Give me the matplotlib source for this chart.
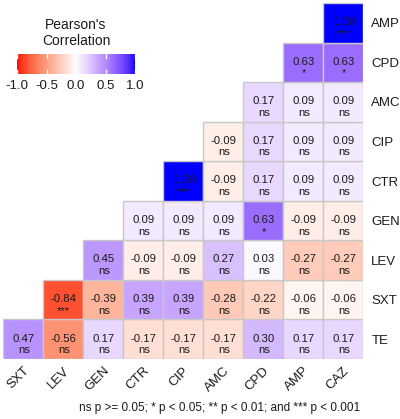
import numpy as np
import matplotlib
matplotlib.use("Agg")
import matplotlib.pyplot as plt
from matplotlib.patches import Rectangle

plt.rcParams['font.family'] = ['Liberation Sans', 'DejaVu Sans']

x_labels = ["SXT", "LEV", "GEN", "CTR", "CIP", "AMC", "CPD", "AMP", "CAZ"]
y_labels = ["TE", "SXT", "LEV", "GEN", "CTR", "CIP", "AMC", "CPD", "AMP"]  # bottom to top

vals_TE = [0.47, -0.56, 0.17, -0.17, -0.17, -0.17, 0.30, 0.17, 0.17]
vals_SXT = [-0.84, -0.39, 0.39, 0.39, -0.28, -0.22, -0.06, -0.06]
vals_LEV = [0.45, -0.09, -0.09, 0.27, 0.03, -0.27, -0.27]
vals_GEN = [0.09, 0.09, 0.09, 0.63, -0.09, -0.09]
vals_CTR = [1.00, -0.09, 0.17, 0.09, 0.09]
vals_CIP = [-0.09, 0.17, 0.09, 0.09]
vals_AMC = [0.17, 0.09, 0.09]
vals_CPD = [0.63, 0.63]
vals_AMP = [1.00]

sig_TE = ["ns"] * 9
sig_SXT = ["***", "ns", "ns", "ns", "ns", "ns", "ns", "ns"]
sig_LEV = ["ns"] * 7
sig_GEN = ["ns", "ns", "ns", "*", "ns", "ns"]
sig_CTR = ["***", "ns", "ns", "ns", "ns"]
sig_CIP = ["ns"] * 4
sig_AMC = ["ns"] * 3
sig_CPD = ["*", "*"]
sig_AMP = ["***"]

rows_vals = [vals_TE, vals_SXT, vals_LEV, vals_GEN, vals_CTR, vals_CIP, vals_AMC, vals_CPD, vals_AMP]
rows_sig = [sig_TE, sig_SXT, sig_LEV, sig_GEN, sig_CTR, sig_CIP, sig_AMC, sig_CPD, sig_AMP]

legend_ticks = [-1.0, -0.5, 0.0, 0.5, 1.0]
footer = "ns p >= 0.05; * p < 0.05; ** p < 0.01; and *** p < 0.001"

# ---- Lab interpolation (like ggplot2 gradient2) ----
def srgb_to_lab(rgb):
    rgb = np.asarray(rgb, float)
    lin = np.where(rgb <= 0.04045, rgb / 12.92, ((rgb + 0.055) / 1.055) ** 2.4)
    M = np.array([[0.4124564, 0.3575761, 0.1804375],
                  [0.2126729, 0.7151522, 0.0721750],
                  [0.0193339, 0.1191920, 0.9503041]])
    xyz = M @ lin
    wp = np.array([0.95047, 1.0, 1.08883])
    t = xyz / wp
    f = np.where(t > (6/29)**3, np.cbrt(t), t / (3*(6/29)**2) + 4/29)
    return np.array([116*f[1] - 16, 500*(f[0]-f[1]), 200*(f[1]-f[2])])

def lab_to_srgb(lab):
    L, a, b = lab
    fy = (L + 16) / 116
    fx = fy + a / 500
    fz = fy - b / 200
    def finv(f):
        return np.where(f > 6/29, f**3, 3*(6/29)**2*(f - 4/29))
    wp = np.array([0.95047, 1.0, 1.08883])
    xyz = np.array([finv(fx), finv(fy), finv(fz)]) * wp
    Minv = np.array([[3.2404542, -1.5371385, -0.4985314],
                     [-0.9692660, 1.8760108, 0.0415560],
                     [0.0556434, -0.2040259, 1.0572252]])
    lin = Minv @ xyz
    lin = np.clip(lin, 0, 1)
    rgb = np.where(lin <= 0.0031308, 12.92*lin, 1.055*lin**(1/2.4) - 0.055)
    return np.clip(rgb, 0, 1)

LAB_LOW = srgb_to_lab([1, 0, 0])
LAB_MID = srgb_to_lab([1, 1, 1])
LAB_HIGH = srgb_to_lab([0, 0, 1])

def corr_color(v):
    v = max(-1, min(1, v))
    if v < 0:
        lab = LAB_MID + (LAB_LOW - LAB_MID) * (-v)
    else:
        lab = LAB_MID + (LAB_HIGH - LAB_MID) * v
    return lab_to_srgb(lab)

W, H = 400, 419
fig = plt.figure(figsize=(W/100, H/100), dpi=100)

ax = fig.add_axes([3/W, 1 - 359/H, 360/W, 356/H])
ax.set_xlim(0, 9)
ax.set_ylim(0, 9)
for r, (vals, sigs) in enumerate(zip(rows_vals, rows_sig)):
    start = r  # first column index
    for k, (v, s) in enumerate(zip(vals, sigs)):
        c = start + k
        ax.add_patch(Rectangle((c, r), 1, 1, facecolor=corr_color(v),
                               edgecolor="#c8c8c8", linewidth=1.0))
        ax.text(c + 0.52, r + 0.44, f"{v:.2f}", ha="center", va="baseline",
                fontsize=8.2, color="#1a1a1a")
        ax.text(c + 0.52, r + 0.145, s, ha="center", va="baseline",
                fontsize=8.2, color="#1a1a1a")

ax.set_xticks(np.arange(9) + 0.5)
ax.set_xticklabels(x_labels, rotation=45, ha="right", va="top",
                   rotation_mode="anchor", fontsize=9.5, color="#1a1a1a")
ax.set_yticks(np.arange(9) + 0.5)
ax.set_yticklabels(y_labels, fontsize=9.5, color="#1a1a1a")
ax.yaxis.tick_right()
ax.tick_params(axis="both", length=0)
ax.tick_params(axis="y", pad=6)
ax.tick_params(axis="x", pad=4)
for sp in ax.spines.values():
    sp.set_visible(False)

# footer
fig.text(360/W, 1 - 408/H, footer, ha="right", va="center", fontsize=8.5, color="#1a1a1a")

# colorbar legend
cax = fig.add_axes([17/W, 1 - 74/H, 118/W, 20/H])
grad = np.linspace(-1, 1, 300)
img = np.array([[corr_color(g) for g in grad]])
cax.imshow(img, aspect="auto", extent=(-1, 1, 0, 1))
cax.set_xlim(-1, 1)
cax.set_ylim(0, 1)
for t in legend_ticks:
    cax.plot([t, t], [0, 0.2], color="white", lw=1)
    cax.plot([t, t], [0.8, 1], color="white", lw=1)
cax.set_xticks(legend_ticks)
cax.set_xticklabels([f"{t:.1f}" for t in legend_ticks], fontsize=9.5, color="#1a1a1a")
cax.set_yticks([])
cax.tick_params(axis="x", length=0, pad=4)
for sp in cax.spines.values():
    sp.set_visible(False)

fig.text(76/W, 1 - 33/H, "Pearson's\nCorrelation", ha="center", va="center",
         fontsize=10, color="#1a1a1a", linespacing=1.1)

fig.savefig("out.png", dpi=100)
